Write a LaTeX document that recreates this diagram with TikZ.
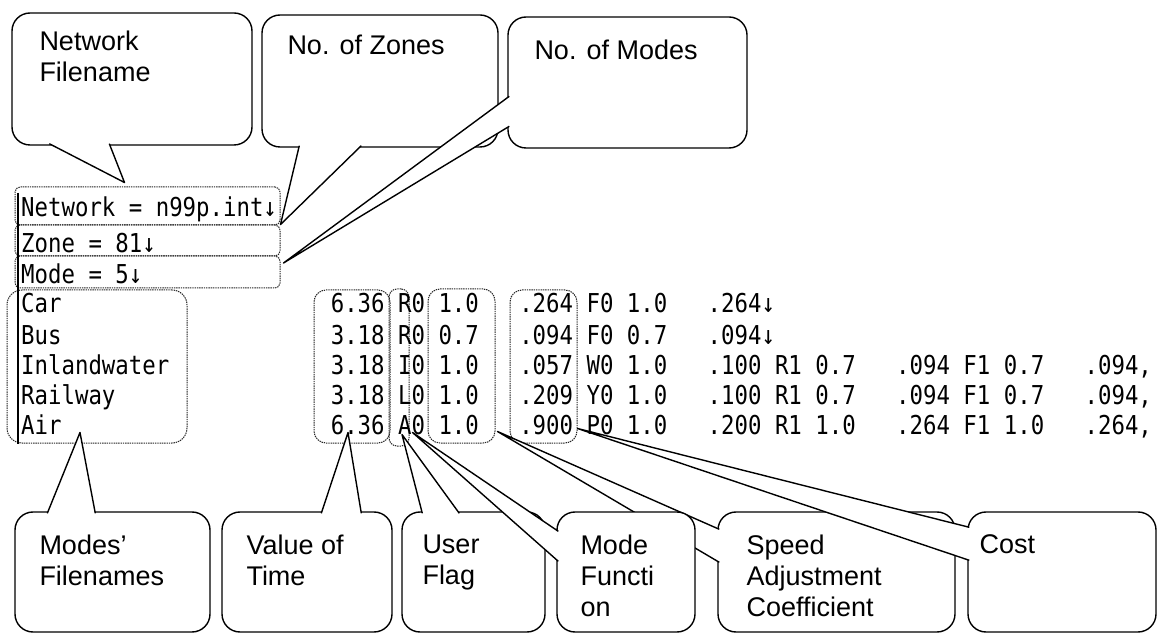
\documentclass[tikz,border=0pt]{standalone}
\usepackage{fontspec}
\setmainfont{Liberation Sans}
\newfontfamily\filefont[FakeStretch=0.86]{DejaVu Sans Mono}
\usetikzlibrary{positioning,calc}
\tikzset{
  bubble/.style={rectangle, rounded corners=18pt, draw=black, line width=1.4pt, fill=white, inner sep=0pt},
  wedge/.style={draw=black, line width=1.4pt, fill=white, line join=round},
  bubtext/.style={inner sep=0pt, align=left, font=\fontsize{27}{31}\selectfont},
  fileline/.style={anchor=base west, inner sep=0pt, font=\filefont\fontsize{26}{31}\selectfont},
  dotbox/.style={rectangle, rounded corners=#1, draw=black!85, line width=1pt,
                 dash pattern=on 1.4pt off 0.9pt, inner sep=0pt},
  dotbox/.default=12pt,
}

\begin{document}
\begin{tikzpicture}[x=1pt, y=-1pt]
  \useasboundingbox[fill=white] (0,0) rectangle (1160,636);

  % the parameter file
  \node[dotbox=5pt, minimum width=265pt, minimum height=38pt] (netfield) at (147.5,206) {};
  \node[dotbox=5pt, minimum width=265pt, minimum height=31pt] (zonefield) at (147.5,240.5) {};
  \node[dotbox=5pt, minimum width=265pt, minimum height=32pt] (modefield) at (147.5,272) {};
  \node[dotbox=15pt, minimum width=180pt, minimum height=153pt] (namecol) at (97,366.5) {};
  \node[dotbox, minimum width=76pt, minimum height=153pt] (timecol) at (352,366.5) {};
  \node[dotbox=8pt, minimum width=20pt, minimum height=157pt] (flagcol) at (399,367.5) {};
  \node[dotbox, minimum width=67pt, minimum height=154pt] (speedcol) at (461.5,366) {};
  \node[dotbox, minimum width=67pt, minimum height=153pt] (costcol) at (543.5,366.5) {};
  \draw[line width=1.6pt] (18,193) -- (18,444);

  \node[fileline] (netline) at (21,216.5) {Network~=~n99p.int↓};
  \node[fileline] (zoneline) at (21,252.5) {Zone~=~81↓};
  \node[fileline] (modeline) at (21,283.5) {Mode~=~5↓};
  \node[fileline] (carline) at (21,313) {Car~~~~~~~~~~~~~~~~~~~~6.36~R0~1.0~~~.264~F0~1.0~~~.264↓};
  \node[fileline] (busline) at (21,344.5) {Bus~~~~~~~~~~~~~~~~~~~~3.18~R0~0.7~~~.094~F0~0.7~~~.094↓};
  \node[fileline] (waterline) at (21,374.5) {Inlandwater~~~~~~~~~~~~3.18~I0~1.0~~~.057~W0~1.0~~~.100~R1~0.7~~~.094~F1~0.7~~~.094,};
  \node[fileline] (railline) at (21,404.5) {Railway~~~~~~~~~~~~~~~~3.18~L0~1.0~~~.209~Y0~1.0~~~.100~R1~0.7~~~.094~F1~0.7~~~.094,};
  \node[fileline] (airline) at (21,434.5) {Air~~~~~~~~~~~~~~~~~~~~6.36~A0~1.0~~~.900~P0~1.0~~~.200~R1~1.0~~~.264~F1~1.0~~~.264,};

  % top callouts
  \node[bubble, minimum width=240pt, minimum height=132pt] (netcall) at (132,79) {};
  \draw[wedge] ($(netcall.south west)+(38,-2)$) -- ($(netfield.north west)+(110,-4)$) -- ($(netcall.south west)+(98,-2)$);
  \node[bubtext, below right=18pt and 28pt of netcall.north west] (nettext) {Network\\Filename};

  \node[bubble, minimum width=236pt, minimum height=132pt] (zonecall) at (380,81) {};
  \draw[wedge] ($(zonecall.south west)+(38,-2)$) -- (zonefield.north east) -- ($(zonecall.south west)+(100,-2)$);
  \node[bubtext, below right=20pt and 26pt of zonecall.north west] (zonetext) {No. of Zones};

  \node[bubble, minimum width=239pt, minimum height=131pt] (modecall) at (627.5,82.5) {};
  \draw[wedge] ($(modecall.north west)+(2,80)$) -- ($(modefield.east)+(3,-9)$) -- ($(modecall.north west)+(2,110)$);
  \node[bubtext, below right=23pt and 27pt of modecall.north west] (modetext) {No. of Modes};

  % bottom callouts
  \node[bubble, minimum width=195pt, minimum height=120pt] (namecall) at (112.5,572) {};
  \draw[wedge] ($(namecall.north west)+(33,2)$) -- ($(namecol.south)+(-17,-11)$) -- ($(namecall.north west)+(81,2)$);
  \node[bubtext, below right=23pt and 25pt of namecall.north west] (nametext) {Modes'\\Filenames};

  \node[bubble, minimum width=170pt, minimum height=120pt] (timecall) at (307,572) {};
  \draw[wedge] ($(timecall.north west)+(100,2)$) -- ($(timecol.south)+(-4,-11)$) -- ($(timecall.north west)+(140,2)$);
  \node[bubtext, below right=23pt and 25pt of timecall.north west] (timetext) {Value of\\Time};

  \node[bubble, minimum width=143pt, minimum height=120pt] (flagcall) at (473.5,572) {};
  \draw[wedge] ($(flagcall.north west)+(21,2)$) -- ($(flagcol.south)+(3,-12)$) -- ($(flagcall.north west)+(58,2)$);
  \node[bubtext, below right=23pt and 21pt of flagcall.north west] (flagtext) {User\\Flag};

  \node[bubble, minimum width=237pt, minimum height=120pt] (speedcall) at (836.5,572) {};
  \draw[wedge] ($(speedcall.north west)+(2,18)$) -- ($(speedcol.south east)+(2,-12)$) -- ($(speedcall.north west)+(2,51)$);
  \node[bubtext, below right=23pt and 29pt of speedcall.north west] (speedtext) {Speed\\Adjustment\\Coefficient};

  \node[bubble, minimum width=138pt, minimum height=120pt] (funccall) at (626,572) {};
  \draw[wedge] ($(funccall.north west)+(2,20)$) -- ($(flagcol.south east)+(3,-14)$) -- ($(funccall.north west)+(2,50)$);
  \node[bubtext, below right=23pt and 24pt of funccall.north west] (functext) {Mode\\Functi\\on};

  \node[bubble, minimum width=188pt, minimum height=120pt] (costcall) at (1062,572) {};
  \draw[wedge] ($(costcall.north west)+(2,16)$) -- ($(costcol.south east)+(0,-15)$) -- ($(costcall.north west)+(2,49)$);
  \node[bubtext, below right=23pt and 12pt of costcall.north west] (costtext) {Cost};
\end{tikzpicture}
\end{document}
